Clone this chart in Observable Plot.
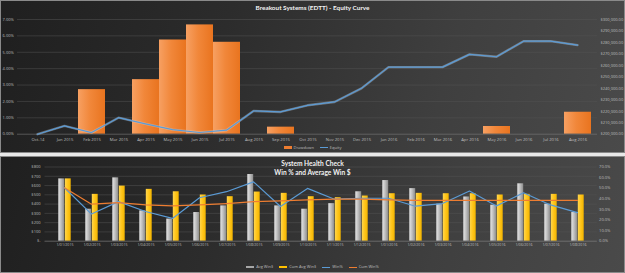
<!DOCTYPE html>
<html>
<head>
<meta charset="utf-8">
<script src="https://cdn.jsdelivr.net/npm/d3@7"></script>
<script src="https://cdn.jsdelivr.net/npm/@observablehq/plot@0.6"></script>
<style>
  html, body { margin: 0; padding: 0; width: 625px; height: 273px; overflow: hidden; background: #e8e8e8; font-family: "Open Sans", sans-serif; }
  .panel { position: absolute; left: 0; width: 625px; overflow: hidden; box-shadow: inset 0 0 0 1px #8a8a8a; }
  #equityPanel { top: 0; height: 153px; background: linear-gradient(105deg, #1f1f1f 0%, #2c2c2c 35%, #3f3f3f 70%, #4a4a4a 100%); }
  #healthPanel { top: 156px; height: 117px; background: linear-gradient(105deg, #1f1f1f 0%, #2c2c2c 35%, #3f3f3f 70%, #4a4a4a 100%); }
  .layer { position: absolute; left: 0; top: 0; }
  .title { position: absolute; left: 0; width: 625px; text-align: center; color: #f2f2f2; font-weight: bold; font-family: Lato, "Open Sans", sans-serif; line-height: 1; }
  .legend { position: absolute; left: 0; width: 625px; display: flex; justify-content: center; align-items: center; color: #bfbfbf; font-size: 4px; line-height: 1; }
  .legend .item { display: flex; align-items: center; margin: 0 3px; }
  .legend .sw { display: inline-block; width: 8px; margin-right: 2px; }
</style>
</head>
<body>
<div id="equityPanel" class="panel">
  <div class="title" style="top:5px;font-size:6.4px;">Breakout Systems (EDTT) - Equity Curve</div>
  <div class="legend" style="top:145.5px;">
    <span class="item"><span class="sw" style="height:2.5px;background:#ed7d31;"></span>Drawdown</span>
    <span class="item"><span class="sw" style="height:1px;background:#5b9bd5;"></span>Equity</span>
  </div>
</div>
<div id="healthPanel" class="panel">
  <div class="title" style="top:4px;font-size:6.6px;">System Health Check</div>
  <div class="title" style="top:13px;font-size:6.6px;">Win % and Average Win $</div>
  <div class="legend" style="top:109px;">
    <span class="item"><span class="sw" style="height:2.5px;background:#a6a6a6;"></span>Avg Win$</span>
    <span class="item"><span class="sw" style="height:2.5px;background:#ffc000;"></span>Cum Avg Win$</span>
    <span class="item"><span class="sw" style="height:1px;background:#5b9bd5;"></span>Win%</span>
    <span class="item"><span class="sw" style="height:1px;background:#ed7d31;"></span>Cum Win%</span>
  </div>
</div>
<script>
// ---- Equity curve data (monthly) ----
const months = ["Oct-14", "Jan 2015", "Feb 2015", "Mar 2015", "Apr 2015", "May 2015", "Jun 2015",
  "Jul 2015", "Aug 2015", "Sep 2015", "Oct 2015", "Nov 2015", "Dec 2015", "Jan 2016", "Feb 2016",
  "Mar 2016", "Apr 2016", "May 2016", "Jun 2016", "Jul 2016", "Aug 2016"];
const drawdown = [0, 0, 0.0272, 0, 0.0333, 0.0575, 0.0667, 0.0561, 0, 0.0043, 0, 0, 0, 0, 0,
  0, 0, 0.0047, 0, 0, 0.0134];
const equity = [200000, 207200, 201400, 214400, 209000, 204000, 201500, 203500, 220300, 219400,
  225200, 228100, 240000, 258500, 258500, 258500, 269600, 267500, 281100, 281100, 277700];
const drawdownTicks = [0, 0.01, 0.02, 0.03, 0.04, 0.05, 0.06, 0.07];
const equityTicks = [200000, 210000, 220000, 230000, 240000, 250000, 260000, 270000, 280000, 290000, 300000];

// ---- System health data (monthly) ----
const healthMonths = ["1/01/2015", "1/02/2015", "1/03/2015", "1/04/2015", "1/05/2015", "1/06/2015",
  "1/07/2015", "1/08/2015", "1/09/2015", "1/10/2015", "1/11/2015", "1/12/2015", "1/01/2016",
  "1/02/2016", "1/03/2016", "1/04/2016", "1/05/2016", "1/06/2016", "1/07/2016", "1/08/2016"];
const avgWin = [672, 345, 683, 327, 239, 309, 381, 719, 381, 345, 405, 533, 654, 567, 399, 477, 388, 619, 399, 309];
const cumAvgWin = [672, 505, 594, 559, 533, 498, 480, 530, 516, 480, 469, 487, 512, 516, 512, 512, 498, 505, 505, 498];
const winPct = [0.504, 0.256, 0.373, 0.28, 0.215, 0.41, 0.467, 0.56, 0.327, 0.498, 0.396, 0.405,
  0.405, 0.33, 0.355, 0.473, 0.333, 0.457, 0.342, 0.27];
const cumWinPct = [0.504, 0.349, 0.364, 0.342, 0.333, 0.342, 0.355, 0.373, 0.38, 0.389, 0.396, 0.396,
  0.389, 0.386, 0.386, 0.386, 0.386, 0.386, 0.386, 0.386];
const dollarTicks = [0, 100, 200, 300, 400, 500, 600, 700, 800];
const pctTicks = [0, 0.1, 0.2, 0.3, 0.4, 0.5, 0.6, 0.7];

const equityRows = months.map((month, i) => ({month, dd: drawdown[i], eq: equity[i]}));
const healthRows = healthMonths.map((month, i) => ({month, avg: avgWin[i], cum: cumAvgWin[i], win: winPct[i], cumWin: cumWinPct[i]}));

const W = 625;
const baseStyle = {background: "transparent", color: "#bfbfbf", fontSize: "4px", fontFamily: "'Open Sans', sans-serif", overflow: "visible"};

function addGradient(svg, id, stops) {
  let defs = d3.select(svg).select("defs");
  if (defs.empty()) defs = d3.select(svg).insert("defs", ":first-child");
  const g = defs.append("linearGradient").attr("id", id).attr("x1", 0).attr("x2", 1).attr("y1", 0).attr("y2", 0);
  stops.forEach(([o, c]) => g.append("stop").attr("offset", o).attr("stop-color", c));
}
function place(parent, svg) {
  svg.classList.add("layer");
  parent.appendChild(svg);
}

// ---- Equity panel: drawdown bars on the left axis, equity line on the right axis ----
const eqFrame = {width: W, height: 145, marginTop: 19, marginBottom: 11.3, marginLeft: 17, marginRight: 28};

const ddLayer = Plot.plot({
  ...eqFrame,
  style: baseStyle,
  x: {type: "band", domain: months, padding: 0},
  y: {domain: [0, 0.07]},
  marks: [
    Plot.ruleY(drawdownTicks.slice(1), {stroke: "#555", strokeWidth: 0.5}),
    Plot.barY(equityRows, {x: "month", y: "dd", fill: "url(#ddFill)"}),
    Plot.ruleY([0], {stroke: "#7a7a7a", strokeWidth: 0.6}),
    Plot.axisX({tickSize: 0, tickPadding: 3.5, fontSize: 4.2, label: null}),
    Plot.axisY(drawdownTicks, {tickSize: 0, tickPadding: 3.7, tickFormat: d3.format(".2%"), label: null})
  ]
});
addGradient(ddLayer, "ddFill", [[0, "#f7a062"], [0.45, "#f1873a"], [1, "#e9741f"]]);

const eqLayer = Plot.plot({
  ...eqFrame,
  style: baseStyle,
  x: {type: "point", domain: months, padding: 0.5, axis: null},
  y: {domain: [200000, 300000]},
  marks: [
    Plot.axisY(equityTicks, {anchor: "right", tickSize: 0, tickPadding: 3, tickFormat: d3.format("$,.2f"), label: null}),
    Plot.lineY(equityRows, {x: "month", y: "eq", stroke: "#d6e6f5", strokeOpacity: 0.35, strokeWidth: 2.4}),
    Plot.lineY(equityRows, {x: "month", y: "eq", stroke: "#5b9bd5", strokeWidth: 1.2})
  ]
});

const equityPanel = document.getElementById("equityPanel");
place(equityPanel, ddLayer);
place(equityPanel, eqLayer);

// ---- Health panel: average win bars on the left axis, win-rate lines on the right axis ----
const hFrame = {width: W, height: 100, marginTop: 10.5, marginBottom: 15.3, marginLeft: 44.5, marginRight: 28.2};

const winBars = Plot.plot({
  ...hFrame,
  style: baseStyle,
  x: {type: "band", domain: healthMonths, padding: 0},
  y: {domain: [0, 800]},
  marks: [
    Plot.ruleY(dollarTicks.slice(1), {stroke: "#555", strokeWidth: 0.5}),
    Plot.barY(healthRows, {x: "month", y: "avg", fill: "url(#avgFill)", insetLeft: 7.3, insetRight: 13.8}),
    Plot.barY(healthRows, {x: "month", y: "cum", fill: "url(#cumFill)", insetLeft: 13.8, insetRight: 7.3}),
    Plot.ruleY([0], {stroke: "#8a8a8a", strokeWidth: 0.6}),
    Plot.axisX({tickSize: 0, tickPadding: 2.4, fontSize: 3.6, label: null}),
    Plot.axisY(dollarTicks, {tickSize: 0, tickPadding: 4.5, tickFormat: d => d === 0 ? "$-" : "$" + d, label: null})
  ]
});
addGradient(winBars, "avgFill", [[0, "#e6e6e6"], [0.5, "#bdbdbd"], [1, "#8c8c8c"]]);
addGradient(winBars, "cumFill", [[0, "#ffd64f"], [0.5, "#ffc51a"], [1, "#f2b400"]]);

const winLines = Plot.plot({
  ...hFrame,
  style: baseStyle,
  x: {type: "point", domain: healthMonths, padding: 0.5, axis: null},
  y: {domain: [0, 0.7]},
  marks: [
    Plot.axisY(pctTicks, {anchor: "right", tickSize: 0, tickPadding: 1.8, tickFormat: d3.format(".1%"), label: null}),
    Plot.lineY(healthRows, {x: "month", y: "win", stroke: "#5b9bd5", strokeWidth: 1.2}),
    Plot.lineY(healthRows, {x: "month", y: "cumWin", stroke: "#ed7d31", strokeWidth: 1.2})
  ]
});

const healthPanel = document.getElementById("healthPanel");
place(healthPanel, winBars);
place(healthPanel, winLines);
</script>
</body>
</html>
